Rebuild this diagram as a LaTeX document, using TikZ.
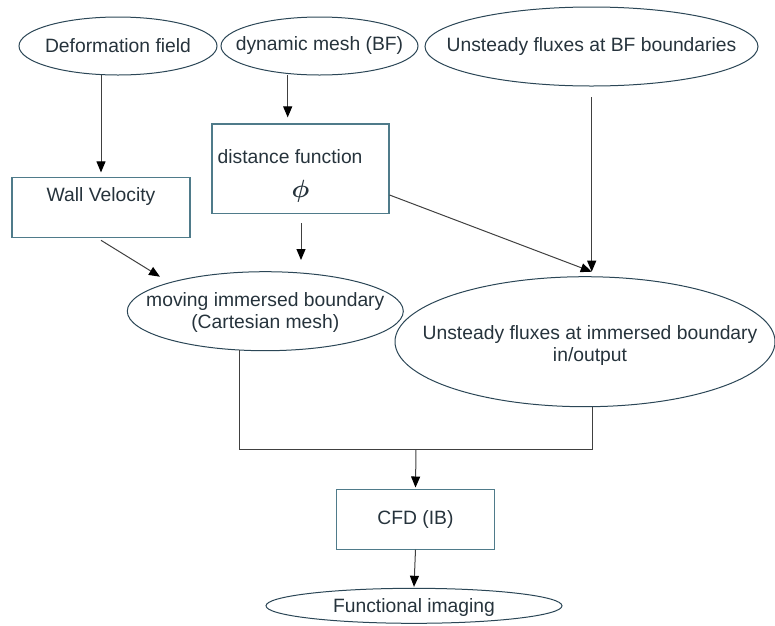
\documentclass[tikz,border=0pt]{standalone}
\usepackage{fontspec}
\setmainfont{Liberation Sans}
\usetikzlibrary{shapes.geometric,arrows.meta,calc}
\definecolor{txtc}{HTML}{26333C}
\definecolor{ellc}{HTML}{2B4656}
\definecolor{boxc}{HTML}{4F7B8A}
\definecolor{linec}{HTML}{404040}
\begin{document}
\begin{tikzpicture}[x=1pt,y=-1pt,
  every label/.style={text=txtc,font=\fontsize{19.3}{22}\selectfont,align=center,inner sep=0pt},
  ell/.style={ellipse,draw=ellc,line width=1pt,inner sep=0pt},
  boxn/.style={rectangle,draw=boxc,line width=1.1pt,inner sep=0pt},
  conn/.style={draw=linec,line width=1pt},
  arr/.style={conn,-{Triangle[length=11pt,width=9pt,color=black,fill=black]}}]
\useasboundingbox (0,0) rectangle (775,625);

% top ellipses
\node[ell,minimum width=198pt,minimum height=58pt,label={center:Deformation field}] (def) at (118,46) {};
\node[ell,minimum width=197pt,minimum height=58pt,label={center:dynamic mesh (BF)}] (dyn) at (319.5,46) {};
\node[ell,minimum width=333pt,minimum height=79pt,label={center:Unsteady fluxes at BF boundaries}] (bf) at (591.5,46.5) {};

% boxes
\node[boxn,minimum width=178pt,minimum height=59.5pt,label={[yshift=10.7pt]center:Wall Velocity}] (wall) at (101,207.4) {};
\node[boxn,minimum width=177pt,minimum height=89.5pt,
  label={[anchor=west,xshift=6pt,yshift=12pt]west:distance function},
  label={[yshift=-23pt,font=\fontsize{25}{26}\selectfont\boldmath]center:$\phi$}] (dist) at (300.5,168.7) {};

% middle ellipses
\node[ell,minimum width=276pt,minimum height=79pt,label={[yshift=-1.7pt]center:moving immersed boundary\\(Cartesian mesh)}] (mov) at (265.3,311.2) {};
\node[ell,minimum width=380pt,minimum height=130pt,label={[xshift=5pt,yshift=-3.3pt]center:Unsteady fluxes at immersed boundary\\in/output}] (imm) at (585,341.7) {};

% CFD and output
\node[boxn,minimum width=157.6pt,minimum height=59.7pt,label={center:CFD (IB)}] (cfd) at (415.5,519.2) {};
\node[ell,minimum width=296pt,minimum height=35pt,label={[yshift=-2pt]center:Functional imaging}] (fun) at (414,605.8) {};

% coordinates
\coordinate (ftip) at (591.7,271.7);
\coordinate (wtip) at (160,276.7);
\coordinate (dtip) at (301,260);
\coordinate (join) at (416,449.3);

% connectors
\draw[arr] ([xshift=-17pt,yshift=0.5pt]def.south) -- ([yshift=4.7pt]wall.north);
\draw[arr] ([xshift=-31.8pt,yshift=0.6pt]dyn.south) -- ([xshift=-12.8pt,yshift=6pt]dist.north);
\draw[arr] ([xshift=0.2pt,yshift=-10.5pt]bf.south) -- (ftip);
\draw[arr] ([yshift=-26.3pt]dist.east) -- (ftip);
\draw[arr] ([yshift=-2.6pt]wall.south) -- (wtip);
\draw[arr] ([xshift=0.5pt,yshift=-9pt]dist.south) -- (dtip);
\draw[conn] ([xshift=-26.3pt,yshift=1.2pt]mov.south) |- (join) -| ([xshift=7.3pt,yshift=0.6pt]imm.south);
\draw[arr] (join) -- ([yshift=1.3pt]cfd.north);
\draw[arr] (cfd.south) -- ([yshift=1pt]fun.north);
\end{tikzpicture}
\end{document}
